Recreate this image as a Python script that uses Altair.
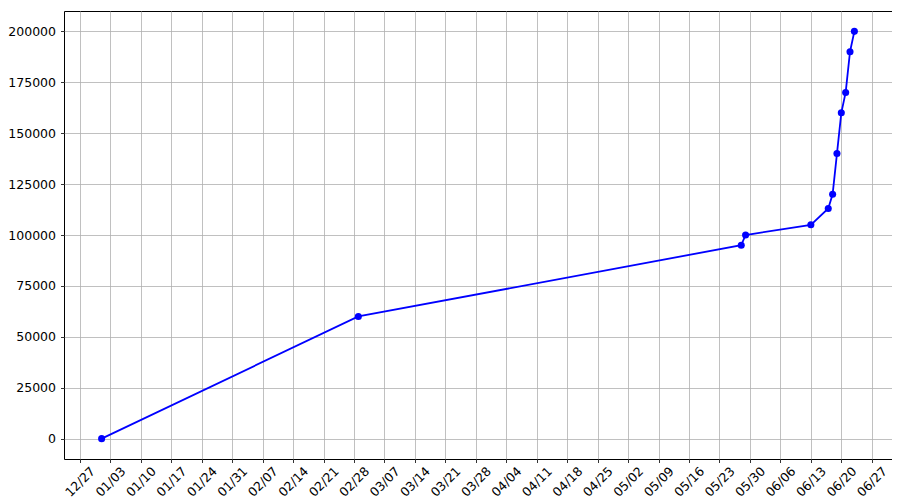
import altair as alt
import pandas as pd

# ---- data ----
dates = ["2021-01-01", "2021-03-01", "2021-05-28", "2021-05-29", "2021-06-13",
         "2021-06-17", "2021-06-18", "2021-06-19", "2021-06-20", "2021-06-21",
         "2021-06-22", "2021-06-23"]
values = [0, 60000, 95000, 100000, 105000, 113000, 120000, 140000, 160000,
          170000, 190000, 200000]

x_ticks = ["2020-12-27", "2021-01-03", "2021-01-10", "2021-01-17", "2021-01-24",
           "2021-01-31", "2021-02-07", "2021-02-14", "2021-02-21", "2021-02-28",
           "2021-03-07", "2021-03-14", "2021-03-21", "2021-03-28", "2021-04-04",
           "2021-04-11", "2021-04-18", "2021-04-25", "2021-05-02", "2021-05-09",
           "2021-05-16", "2021-05-23", "2021-05-30", "2021-06-06", "2021-06-13",
           "2021-06-20", "2021-06-27"]
y_ticks = [0, 25000, 50000, 75000, 100000, 125000, 150000, 175000, 200000]

title_text = "□□□□□□□□□□□"

df = pd.DataFrame({"date": dates, "value": values})


def dt(s, h=0, m=0):
    t = pd.Timestamp(s)
    return alt.DateTime(year=t.year, month=t.month, date=t.day,
                        hours=h, minutes=m, utc=True)


x_domain = [dt("2020-12-23", 8, 24), dt("2021-07-01", 15, 36)]
tick_vals = [dt(s) for s in x_ticks]

chart = alt.Chart(df).mark_line(
    color="#0000ff", strokeWidth=1.8,
    point=alt.OverlayMarkDef(color="#0000ff", size=50, filled=True, opacity=1)
).encode(
    x=alt.X("date:T", title=None,
            scale=alt.Scale(type="utc", domain=x_domain, nice=False),
            axis=alt.Axis(values=tick_vals, format="%m/%d", labelAngle=315,
                          labelAlign="center", labelBaseline="middle",
                          labelPadding=19, labelOverlap=False, labelFlush=False)),
    y=alt.Y("value:Q", title=None,
            scale=alt.Scale(domain=[-10000, 210000], nice=False, zero=False),
            axis=alt.Axis(values=y_ticks, format="d", labelPadding=5,
                          labelFlush=False, labelOverlap=False)),
).properties(
    width=828, height=448,
    title=alt.TitleParams(title_text, font="DejaVu Sans", fontSize=14,
                          fontWeight="normal", anchor="middle",
                          baseline="alphabetic", offset=0, color="black"),
    autosize=alt.AutoSizeParams(type="none"),
    padding={"left": 56, "top": 3, "right": 0, "bottom": 43},
).configure_axis(
    labelFont="DejaVu Sans", labelFontSize=12.5, labelColor="black",
    tickColor="black", tickSize=3.5, tickWidth=0.8,
    grid=True, gridColor="#b0b0b0", gridWidth=0.8, domain=False,
).configure_view(
    stroke="black", strokeWidth=1,
)

chart.save("out.html", embed_options={"renderer": "svg", "actions": False})
